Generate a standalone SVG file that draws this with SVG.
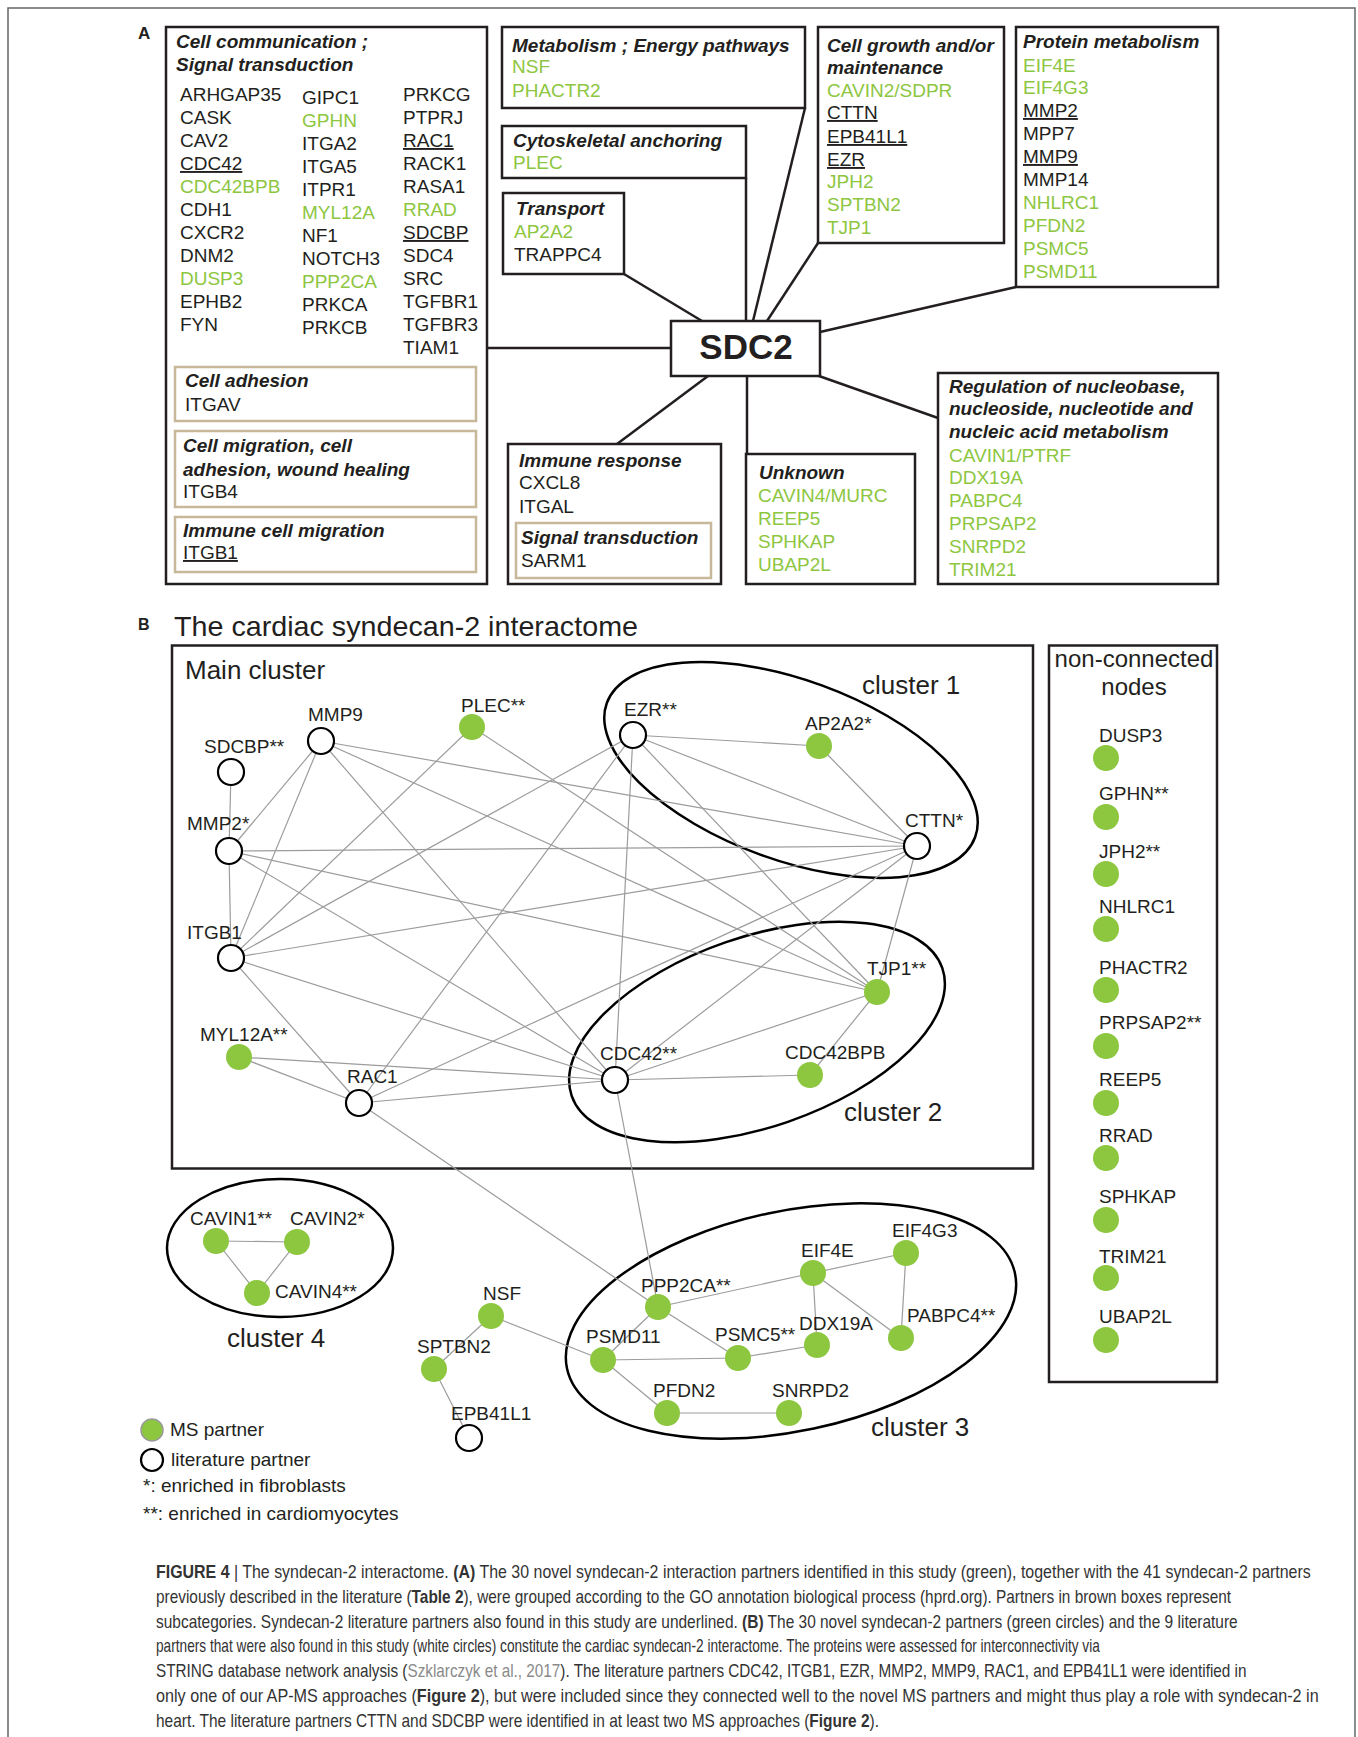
<svg xmlns="http://www.w3.org/2000/svg" width="1358" height="1737" viewBox="0 0 1358 1737">
<style>
text{font-family:"Liberation Sans",Arial,Helvetica,sans-serif;fill:#231f20}
.t{font-size:19px}
.h{font-size:19px;font-weight:bold;font-style:italic}
.g{fill:#8dc63f}
.u{text-decoration:underline}
.box{fill:#fff;stroke:#231f20;stroke-width:2.5}
.sub{fill:none;stroke:#c8b89a;stroke-width:2.5}
.cn line{stroke:#231f20;stroke-width:2.5}
.ed line{stroke:#9c9c9c;stroke-width:1.2}
.wn{fill:#fff;stroke:#000;stroke-width:2.2}
.gn{fill:#8dc63f}
.lb{font-size:19px}
.cl{fill:none;stroke:#000;stroke-width:2.5}
.big{font-size:26px}
.cap{font-size:18px;fill:#333}
.b{font-weight:bold}
</style>
<rect x="8" y="8" width="1347" height="1745" fill="#fff" stroke="#666" stroke-width="1.5"/>

<!-- PANEL A -->
<text x="138" y="39" font-size="17" font-weight="bold">A</text>
<g class="cn">
<line x1="487" y1="348" x2="671" y2="348"/>
<line x1="624" y1="274" x2="702" y2="321"/>
<line x1="746" y1="178" x2="746" y2="321"/>
<line x1="805" y1="108" x2="753" y2="321"/>
<line x1="818" y1="243" x2="767" y2="321"/>
<line x1="1016" y1="287" x2="820" y2="332"/>
<line x1="708" y1="376" x2="617" y2="444"/>
<line x1="747" y1="376" x2="747" y2="454"/>
<line x1="819" y1="376" x2="938" y2="418"/>
</g>

<g id="cell-communication">
<rect class="box" x="166" y="27" width="321" height="557"/>
<text class="h" x="176" y="48">Cell communication ;</text>
<text class="h" x="176" y="71">Signal transduction</text>
<text class="t" x="180" y="101">ARHGAP35</text>
<text class="t" x="180" y="124">CASK</text>
<text class="t" x="180" y="147">CAV2</text>
<text class="t u" x="180" y="170">CDC42</text>
<text class="t g" x="180" y="193">CDC42BPB</text>
<text class="t" x="180" y="216">CDH1</text>
<text class="t" x="180" y="239">CXCR2</text>
<text class="t" x="180" y="262">DNM2</text>
<text class="t g" x="180" y="285">DUSP3</text>
<text class="t" x="180" y="308">EPHB2</text>
<text class="t" x="180" y="331">FYN</text>
<text class="t" x="302" y="104">GIPC1</text>
<text class="t g" x="302" y="127">GPHN</text>
<text class="t" x="302" y="150">ITGA2</text>
<text class="t" x="302" y="173">ITGA5</text>
<text class="t" x="302" y="196">ITPR1</text>
<text class="t g" x="302" y="219">MYL12A</text>
<text class="t" x="302" y="242">NF1</text>
<text class="t" x="302" y="265">NOTCH3</text>
<text class="t g" x="302" y="288">PPP2CA</text>
<text class="t" x="302" y="311">PRKCA</text>
<text class="t" x="302" y="334">PRKCB</text>
<text class="t" x="403" y="101">PRKCG</text>
<text class="t" x="403" y="124">PTPRJ</text>
<text class="t u" x="403" y="147">RAC1</text>
<text class="t" x="403" y="170">RACK1</text>
<text class="t" x="403" y="193">RASA1</text>
<text class="t g" x="403" y="216">RRAD</text>
<text class="t u" x="403" y="239">SDCBP</text>
<text class="t" x="403" y="262">SDC4</text>
<text class="t" x="403" y="285">SRC</text>
<text class="t" x="403" y="308">TGFBR1</text>
<text class="t" x="403" y="331">TGFBR3</text>
<text class="t" x="403" y="354">TIAM1</text>
<rect class="sub" x="175" y="367" width="301" height="54"/>
<text class="h" x="185" y="387">Cell adhesion</text>
<text class="t" x="185" y="411">ITGAV</text>
<rect class="sub" x="175" y="431" width="301" height="76"/>
<text class="h" x="183" y="452">Cell migration, cell</text>
<text class="h" x="183" y="476">adhesion, wound healing</text>
<text class="t" x="183" y="498">ITGB4</text>
<rect class="sub" x="175" y="517" width="301" height="55"/>
<text class="h" x="183" y="537">Immune cell migration</text>
<text class="t u" x="183" y="559">ITGB1</text>
</g>

<g id="metabolism">
<rect class="box" x="502" y="27" width="303" height="81"/>
<text class="h" x="512" y="52">Metabolism ; Energy pathways</text>
<text class="t g" x="512" y="73">NSF</text>
<text class="t g" x="512" y="97">PHACTR2</text>
</g>
<g id="cytoskeletal">
<rect class="box" x="502" y="126" width="244" height="52"/>
<text class="h" x="513" y="147">Cytoskeletal anchoring</text>
<text class="t g" x="513" y="169">PLEC</text>
</g>
<g id="transport">
<rect class="box" x="503" y="193" width="121" height="81"/>
<text class="h" x="516" y="215">Transport</text>
<text class="t g" x="514" y="238">AP2A2</text>
<text class="t" x="514" y="261">TRAPPC4</text>
</g>
<g id="cell-growth">
<rect class="box" x="818" y="27" width="186" height="216"/>
<text class="h" x="827" y="52">Cell growth and/or</text>
<text class="h" x="827" y="74">maintenance</text>
<text class="t g" x="827" y="97">CAVIN2/SDPR</text>
<text class="t u" x="827" y="119">CTTN</text>
<text class="t u" x="827" y="143">EPB41L1</text>
<text class="t u" x="827" y="166">EZR</text>
<text class="t g" x="827" y="188">JPH2</text>
<text class="t g" x="827" y="211">SPTBN2</text>
<text class="t g" x="827" y="234">TJP1</text>
</g>
<g id="protein-metabolism">
<rect class="box" x="1016" y="27" width="202" height="260"/>
<text class="h" x="1023" y="48">Protein metabolism</text>
<text class="t g" x="1023" y="72">EIF4E</text>
<text class="t g" x="1023" y="94">EIF4G3</text>
<text class="t u" x="1023" y="117">MMP2</text>
<text class="t" x="1023" y="140">MPP7</text>
<text class="t u" x="1023" y="163">MMP9</text>
<text class="t" x="1023" y="186">MMP14</text>
<text class="t g" x="1023" y="209">NHLRC1</text>
<text class="t g" x="1023" y="232">PFDN2</text>
<text class="t g" x="1023" y="255">PSMC5</text>
<text class="t g" x="1023" y="278">PSMD11</text>
</g>
<g id="sdc2">
<rect class="box" x="671" y="321" width="149" height="55"/>
<text x="746" y="359" font-size="35" font-weight="bold" text-anchor="middle">SDC2</text>
</g>
<g id="immune-response">
<rect class="box" x="508" y="444" width="213" height="140"/>
<text class="h" x="519" y="467">Immune response</text>
<text class="t" x="519" y="489">CXCL8</text>
<text class="t" x="519" y="513">ITGAL</text>
<rect class="sub" x="516" y="523" width="195" height="55"/>
<text class="h" x="521" y="544">Signal transduction</text>
<text class="t" x="521" y="567">SARM1</text>
</g>
<g id="unknown">
<rect class="box" x="746" y="454" width="169" height="130"/>
<text class="h" x="759" y="479">Unknown</text>
<text class="t g" x="758" y="502">CAVIN4/MURC</text>
<text class="t g" x="758" y="525">REEP5</text>
<text class="t g" x="758" y="548">SPHKAP</text>
<text class="t g" x="758" y="571">UBAP2L</text>
</g>
<g id="regulation">
<rect class="box" x="938" y="373" width="280" height="211"/>
<text class="h" x="949" y="393">Regulation of nucleobase,</text>
<text class="h" x="949" y="415">nucleoside, nucleotide and</text>
<text class="h" x="949" y="438">nucleic acid metabolism</text>
<text class="t g" x="949" y="462">CAVIN1/PTRF</text>
<text class="t g" x="949" y="484">DDX19A</text>
<text class="t g" x="949" y="507">PABPC4</text>
<text class="t g" x="949" y="530">PRPSAP2</text>
<text class="t g" x="949" y="553">SNRPD2</text>
<text class="t g" x="949" y="576">TRIM21</text>
</g>

<!-- PANEL B -->
<text x="138" y="630" font-size="16" font-weight="bold">B</text>
<text x="174" y="636" font-size="28" textLength="464" lengthAdjust="spacingAndGlyphs">The cardiac syndecan-2 interactome</text>
<g id="main-cluster">
<rect x="172" y="645.5" width="861" height="523" fill="none" stroke="#231f20" stroke-width="2.5"/>
<text class="big" x="185" y="679">Main cluster</text>
</g>
<g id="non-connected">
<rect x="1049" y="645.5" width="168" height="736.5" fill="none" stroke="#231f20" stroke-width="2.5"/>
<text x="1134" y="667" font-size="24" text-anchor="middle">non-connected</text>
<text x="1134" y="695" font-size="24" text-anchor="middle">nodes</text>
</g>
<g id="cluster-outlines">
<ellipse class="cl" cx="791" cy="770" rx="196" ry="90" transform="rotate(20 791 770)"/>
<ellipse class="cl" cx="757" cy="1032" rx="196" ry="95" transform="rotate(-19 757 1032)"/>
<ellipse class="cl" cx="791" cy="1321" rx="229" ry="110" transform="rotate(-12 791 1321)"/>
<ellipse class="cl" cx="280" cy="1248" rx="113" ry="69"/>
<text class="big" x="862" y="694">cluster 1</text>
<text class="big" x="844" y="1121">cluster 2</text>
<text class="big" x="871" y="1436">cluster 3</text>
<text class="big" x="227" y="1347">cluster 4</text>
</g>

<g id="edges" class="ed">
<line x1="231" y1="772" x2="229" y2="851"/>
<line x1="229" y1="851" x2="231" y2="958"/>
<line x1="229" y1="851" x2="321" y2="741"/>
<line x1="231" y1="958" x2="321" y2="741"/>
<line x1="321" y1="741" x2="917" y2="846"/>
<line x1="321" y1="741" x2="877" y2="992"/>
<line x1="321" y1="741" x2="615" y2="1080"/>
<line x1="229" y1="851" x2="917" y2="846"/>
<line x1="229" y1="851" x2="877" y2="992"/>
<line x1="229" y1="851" x2="615" y2="1080"/>
<line x1="231" y1="958" x2="472" y2="727"/>
<line x1="231" y1="958" x2="633" y2="735"/>
<line x1="231" y1="958" x2="917" y2="846"/>
<line x1="231" y1="958" x2="615" y2="1080"/>
<line x1="231" y1="958" x2="359" y2="1103"/>
<line x1="472" y1="727" x2="877" y2="992"/>
<line x1="633" y1="735" x2="819" y2="746"/>
<line x1="633" y1="735" x2="917" y2="846"/>
<line x1="633" y1="735" x2="877" y2="992"/>
<line x1="633" y1="735" x2="615" y2="1080"/>
<line x1="633" y1="735" x2="359" y2="1103"/>
<line x1="819" y1="746" x2="917" y2="846"/>
<line x1="917" y1="846" x2="877" y2="992"/>
<line x1="917" y1="846" x2="615" y2="1080"/>
<line x1="917" y1="846" x2="359" y2="1103"/>
<line x1="877" y1="992" x2="615" y2="1080"/>
<line x1="877" y1="992" x2="810" y2="1075"/>
<line x1="615" y1="1080" x2="810" y2="1075"/>
<line x1="615" y1="1080" x2="239" y2="1057"/>
<line x1="615" y1="1080" x2="359" y2="1103"/>
<line x1="239" y1="1057" x2="359" y2="1103"/>
<line x1="615" y1="1080" x2="658" y2="1307"/>
<line x1="359" y1="1103" x2="658" y2="1307"/>
<line x1="491" y1="1316" x2="434" y2="1369"/>
<line x1="434" y1="1369" x2="469" y2="1438"/>
<line x1="491" y1="1316" x2="603" y2="1360"/>
<line x1="603" y1="1360" x2="658" y2="1307"/>
<line x1="603" y1="1360" x2="738" y2="1358"/>
<line x1="603" y1="1360" x2="667" y2="1413"/>
<line x1="667" y1="1413" x2="789" y2="1413"/>
<line x1="658" y1="1307" x2="738" y2="1358"/>
<line x1="658" y1="1307" x2="813" y2="1273"/>
<line x1="738" y1="1358" x2="817" y2="1345"/>
<line x1="813" y1="1273" x2="817" y2="1345"/>
<line x1="813" y1="1273" x2="901" y2="1338"/>
<line x1="813" y1="1273" x2="906" y2="1253"/>
<line x1="906" y1="1253" x2="901" y2="1338"/>
<line x1="216" y1="1241" x2="297" y2="1242"/>
<line x1="216" y1="1241" x2="257" y2="1293"/>
<line x1="297" y1="1242" x2="257" y2="1293"/>
</g>

<g id="n-SDCBP"><circle class="wn" cx="231" cy="772" r="13"/><text class="lb" x="204" y="753">SDCBP**</text></g>
<g id="n-MMP9"><circle class="wn" cx="321" cy="741" r="13"/><text class="lb" x="308" y="721">MMP9</text></g>
<g id="n-PLEC"><circle class="gn" cx="472" cy="727" r="13"/><text class="lb" x="461" y="712">PLEC**</text></g>
<g id="n-EZR"><circle class="wn" cx="633" cy="735" r="13"/><text class="lb" x="624" y="716">EZR**</text></g>
<g id="n-AP2A2"><circle class="gn" cx="819" cy="746" r="13"/><text class="lb" x="805" y="730">AP2A2*</text></g>
<g id="n-CTTN"><circle class="wn" cx="917" cy="846" r="13"/><text class="lb" x="905" y="827">CTTN*</text></g>
<g id="n-MMP2"><circle class="wn" cx="229" cy="851" r="13"/><text class="lb" x="187" y="830">MMP2*</text></g>
<g id="n-ITGB1"><circle class="wn" cx="231" cy="958" r="13"/><text class="lb" x="187" y="939">ITGB1</text></g>
<g id="n-TJP1"><circle class="gn" cx="877" cy="992" r="13"/><text class="lb" x="867" y="975">TJP1**</text></g>
<g id="n-MYL12A"><circle class="gn" cx="239" cy="1057" r="13"/><text class="lb" x="200" y="1041">MYL12A**</text></g>
<g id="n-RAC1"><circle class="wn" cx="359" cy="1103" r="13"/><text class="lb" x="347" y="1083">RAC1</text></g>
<g id="n-CDC42"><circle class="wn" cx="615" cy="1080" r="13"/><text class="lb" x="600" y="1060">CDC42**</text></g>
<g id="n-CDC42BPB"><circle class="gn" cx="810" cy="1075" r="13"/><text class="lb" x="785" y="1059">CDC42BPB</text></g>

<g id="n-CAVIN1"><circle class="gn" cx="216" cy="1241" r="13"/><text class="lb" x="190" y="1225">CAVIN1**</text></g>
<g id="n-CAVIN2"><circle class="gn" cx="297" cy="1242" r="13"/><text class="lb" x="290" y="1225">CAVIN2*</text></g>
<g id="n-CAVIN4"><circle class="gn" cx="257" cy="1293" r="13"/><text class="lb" x="275" y="1298">CAVIN4**</text></g>
<g id="n-NSF"><circle class="gn" cx="491" cy="1316" r="13"/><text class="lb" x="483" y="1300">NSF</text></g>
<g id="n-SPTBN2"><circle class="gn" cx="434" cy="1369" r="13"/><text class="lb" x="417" y="1353">SPTBN2</text></g>
<g id="n-EPB41L1"><circle class="wn" cx="469" cy="1438" r="13"/><text class="lb" x="451" y="1420">EPB41L1</text></g>
<g id="n-PPP2CA"><circle class="gn" cx="658" cy="1307" r="13"/><text class="lb" x="641" y="1292">PPP2CA**</text></g>
<g id="n-PSMD11"><circle class="gn" cx="603" cy="1360" r="13"/><text class="lb" x="586" y="1343">PSMD11</text></g>
<g id="n-PFDN2"><circle class="gn" cx="667" cy="1413" r="13"/><text class="lb" x="653" y="1397">PFDN2</text></g>
<g id="n-SNRPD2"><circle class="gn" cx="789" cy="1413" r="13"/><text class="lb" x="772" y="1397">SNRPD2</text></g>
<g id="n-PSMC5"><circle class="gn" cx="738" cy="1358" r="13"/><text class="lb" x="715" y="1341">PSMC5**</text></g>
<g id="n-DDX19A"><circle class="gn" cx="817" cy="1345" r="13"/><text class="lb" x="799" y="1330">DDX19A</text></g>
<g id="n-EIF4E"><circle class="gn" cx="813" cy="1273" r="13"/><text class="lb" x="801" y="1257">EIF4E</text></g>
<g id="n-EIF4G3"><circle class="gn" cx="906" cy="1253" r="13"/><text class="lb" x="892" y="1237">EIF4G3</text></g>
<g id="n-PABPC4"><circle class="gn" cx="901" cy="1338" r="13"/><text class="lb" x="907" y="1322">PABPC4**</text></g>

<g id="n-DUSP3"><circle class="gn" cx="1106" cy="758" r="13"/><text class="lb" x="1099" y="742">DUSP3</text></g>
<g id="n-GPHN"><circle class="gn" cx="1106" cy="817" r="13"/><text class="lb" x="1099" y="800">GPHN**</text></g>
<g id="n-JPH2"><circle class="gn" cx="1106" cy="874" r="13"/><text class="lb" x="1099" y="858">JPH2**</text></g>
<g id="n-NHLRC1"><circle class="gn" cx="1106" cy="929" r="13"/><text class="lb" x="1099" y="913">NHLRC1</text></g>
<g id="n-PHACTR2"><circle class="gn" cx="1106" cy="990" r="13"/><text class="lb" x="1099" y="974">PHACTR2</text></g>
<g id="n-PRPSAP2"><circle class="gn" cx="1106" cy="1046" r="13"/><text class="lb" x="1099" y="1029">PRPSAP2**</text></g>
<g id="n-REEP5"><circle class="gn" cx="1106" cy="1103" r="13"/><text class="lb" x="1099" y="1086">REEP5</text></g>
<g id="n-RRAD"><circle class="gn" cx="1106" cy="1158" r="13"/><text class="lb" x="1099" y="1142">RRAD</text></g>
<g id="n-SPHKAP"><circle class="gn" cx="1106" cy="1220" r="13"/><text class="lb" x="1099" y="1203">SPHKAP</text></g>
<g id="n-TRIM21"><circle class="gn" cx="1106" cy="1278" r="13"/><text class="lb" x="1099" y="1263">TRIM21</text></g>
<g id="n-UBAP2L"><circle class="gn" cx="1106" cy="1340" r="13"/><text class="lb" x="1099" y="1323">UBAP2L</text></g>

<g id="legend">
<circle cx="152" cy="1430" r="11" fill="#8dc63f" stroke="#9a9a9a" stroke-width="1.5"/>
<text class="lb" x="170" y="1436">MS partner</text>
<circle cx="152" cy="1460" r="11" fill="#fff" stroke="#000" stroke-width="2.2"/>
<text class="lb" x="171" y="1466">literature partner</text>
<text class="lb" x="143" y="1492">*: enriched in fibroblasts</text>
<text class="lb" x="143" y="1520">**: enriched in cardiomyocytes</text>
</g>

<g id="caption">
<text class="cap" transform="translate(156 1578) scale(0.886 1)"><tspan class="b">FIGURE 4</tspan> | The syndecan-2 interactome. <tspan class="b">(A)</tspan> The 30 novel syndecan-2 interaction partners identified in this study (green), together with the 41 syndecan-2 partners</text>
<text class="cap" transform="translate(156 1603) scale(0.855 1)">previously described in the literature (<tspan class="b">Table 2</tspan>), were grouped according to the GO annotation biological process (hprd.org). Partners in brown boxes represent</text>
<text class="cap" transform="translate(156 1628) scale(0.86 1)">subcategories. Syndecan-2 literature partners also found in this study are underlined. <tspan class="b">(B)</tspan> The 30 novel syndecan-2 partners (green circles) and the 9 literature</text>
<text class="cap" transform="translate(156 1652) scale(0.76 1)">partners that were also found in this study (white circles) constitute the cardiac syndecan-2 interactome. The proteins were assessed for interconnectivity via</text>
<text class="cap" transform="translate(156 1677) scale(0.85 1)">STRING database network analysis (<tspan fill="#8a8a8a">Szklarczyk et al., 2017</tspan>). The literature partners CDC42, ITGB1, EZR, MMP2, MMP9, RAC1, and EPB41L1 were identified in</text>
<text class="cap" transform="translate(156 1702) scale(0.899 1)">only one of our AP-MS approaches (<tspan class="b">Figure 2</tspan>), but were included since they connected well to the novel MS partners and might thus play a role with syndecan-2 in</text>
<text class="cap" transform="translate(156 1727) scale(0.86 1)">heart. The literature partners CTTN and SDCBP were identified in at least two MS approaches (<tspan class="b">Figure 2</tspan>).</text>
</g>
</svg>
